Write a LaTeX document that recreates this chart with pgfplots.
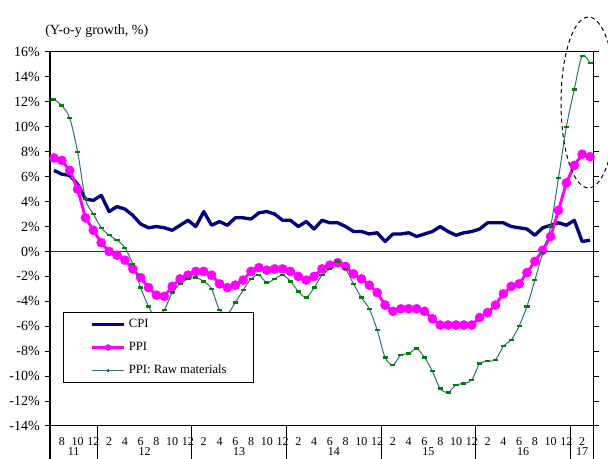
\documentclass[border=0pt]{standalone}
\usepackage{fontspec}
\setmainfont{Liberation Serif}
\usepackage{pgfplots}
\pgfplotsset{compat=1.18}
\usepackage{pgfplotstable}

\definecolor{cpiblue}{RGB}{0,0,128}
\definecolor{ppimag}{RGB}{255,0,255}
\definecolor{rawline}{RGB}{47,112,112}
\definecolor{rawmark}{RGB}{0,128,0}

% Monthly y-o-y growth (%), Jul 2011 (idx 0) to Mar 2017 (idx 68)
\pgfplotstableread{
idx cpi ppi raw
0  6.5  7.5  12.2
1  6.2  7.3  11.7
2  6.1  6.5  10.7
3  5.4  5.0   8.0
4  4.2  2.7   4.2
5  4.1  1.7   3.0
6  4.5  0.7   1.9
7  3.2  0.0   1.3
8  3.6 -0.3   0.9
9  3.4 -0.7   0.3
10 2.9 -1.4  -1.0
11 2.2 -2.1  -2.9
12 1.9 -2.9  -4.4
13 2.0 -3.5  -5.4
14 1.9 -3.6  -4.7
15 1.7 -2.8  -3.3
16 2.1 -2.2  -2.6
17 2.5 -1.9  -2.2
18 2.0 -1.6  -2.1
19 3.2 -1.6  -2.4
20 2.1 -1.9  -3.0
21 2.4 -2.6  -4.7
22 2.1 -2.9  -5.0
23 2.7 -2.7  -4.1
24 2.7 -2.3  -3.1
25 2.6 -1.6  -2.2
26 3.1 -1.3  -1.9
27 3.2 -1.5  -2.5
28 3.0 -1.4  -2.2
29 2.5 -1.4  -1.9
30 2.5 -1.6  -2.4
31 2.0 -2.0  -3.2
32 2.4 -2.3  -3.7
33 1.8 -2.0  -2.9
34 2.5 -1.4  -1.9
35 2.3 -1.1  -1.4
36 2.3 -0.9  -0.8
37 2.0 -1.2  -1.4
38 1.6 -1.8  -2.6
39 1.6 -2.2  -3.7
40 1.4 -2.7  -4.6
41 1.5 -3.3  -6.3
42 0.8 -4.3  -8.5
43 1.4 -4.8  -9.1
44 1.4 -4.6  -8.3
45 1.5 -4.6  -8.2
46 1.2 -4.6  -7.8
47 1.4 -4.8  -8.5
48 1.6 -5.4  -9.6
49 2.0 -5.9 -11.0
50 1.6 -5.9 -11.3
51 1.3 -5.9 -10.7
52 1.5 -5.9 -10.6
53 1.6 -5.9 -10.3
54 1.8 -5.3  -9.0
55 2.3 -4.9  -8.8
56 2.3 -4.3  -8.7
57 2.3 -3.4  -7.6
58 2.0 -2.8  -7.1
59 1.9 -2.6  -6.0
60 1.8 -1.7  -4.4
61 1.3 -0.8  -2.3
62 1.9  0.1  -0.1
63 2.1  1.2   2.0
64 2.3  3.3   5.9
65 2.1  5.5  10.0
66 2.5  6.9  13.0
67 0.8  7.8  15.7
68 0.9  7.6  15.1
}\prices

\begin{document}
\begin{tikzpicture}
\useasboundingbox (-37.5pt,-24.75pt) rectangle (418.5pt,319.5pt);
\clip (-37.5pt,-24.75pt) rectangle (418.5pt,319.5pt);
\begin{axis}[
  at={(0pt,0pt)}, anchor=south west,
  width=408pt, height=280.5pt, scale only axis,
  xmin=-0.5, xmax=68.5, ymin=-14, ymax=16,
  clip=false,
  axis line style={line width=0.75pt, black},
  tick align=outside,
  major tick length=3.75pt,
  xtick={1,3,...,67},
  xticklabels={8,10,12, 2,4,6,8,10,12, 2,4,6,8,10,12, 2,4,6,8,10,12,
               2,4,6,8,10,12, 2,4,6,8,10,12, 2},
  xtick style={draw=none},
  xticklabel style={font=\fontsize{9}{10}\selectfont, anchor=center, inner sep=0pt, yshift=-8.25pt},
  ytick={-14,-12,...,16},
  yticklabels={-14\%,-12\%,-10\%,-8\%,-6\%,-4\%,-2\%,0\%,2\%,4\%,6\%,8\%,10\%,12\%,14\%,16\%},
  ytick style={line width=0.75pt, black},
  yticklabel style={font=\fontsize{10.5}{12}\selectfont, anchor=east, inner sep=0pt, xshift=-3.75pt},
  legend cell align=left,
  legend image code/.code={\draw[mark repeat=2,mark phase=2,#1] plot coordinates {(0pt,0pt) (12pt,0pt) (24pt,0pt)};},
  legend style={at={(0.0239,0.3048)}, anchor=north west, draw=black, line width=0.75pt, fill=white,
    inner xsep=20.25pt, inner ysep=4.75pt, row sep=8.75pt, column sep=2.25pt,
    font=\fontsize{9.5}{11}\selectfont,
    nodes={inner sep=0pt, text height=6.5pt, text depth=2pt}},
]
% zero line
\draw[line width=0.75pt, black!80] (axis cs:-0.5,0) -- (axis cs:68.5,0);

\addplot[color=cpiblue, line width=2.5pt, line join=round, no markers]
  table[x=idx, y=cpi]{\prices};
\addlegendentry{CPI}

\addplot[color=ppimag, line width=2.2pt, line join=round, mark=*, mark size=3.4pt,
  mark options={solid, fill=ppimag, draw=ppimag, line width=0.4pt, line join=miter},
  legend image post style={mark size=2.2pt}]
  table[x=idx, y=ppi]{\prices};
\addlegendentry{PPI}

\addplot[color=rawline, line width=0.75pt, smooth, mark=-, mark size=1.9pt,
  mark options={solid, draw=rawmark, line width=1.8pt},
  legend image post style={mark=*, mark size=0.8pt, mark options={fill=rawmark, draw=rawmark, line width=0pt}}]
  table[x=idx, y=raw]{\prices};
\addlegendentry{PPI: Raw materials}

% thick value axis, extended through the category label rows
\draw[line width=1.5pt, black] (axis cs:-0.5,16) -- (axis cs:-0.5,-14) -- ++(0pt,-24.75pt);
\draw[line width=0.75pt, black] (axis cs:68.5,-14) -- ++(0pt,-24.75pt);
% year separators
\pgfplotsinvokeforeach{5.5,17.5,29.5,41.5,53.5,65.5}{
  \draw[line width=0.75pt, black] (axis cs:#1,-14) -- ++(0pt,-24.75pt);
}
% year labels
\node[font=\fontsize{9}{10}\selectfont, inner sep=0pt] at ([yshift=-19.5pt]axis cs:2.5,-14) {11};
\node[font=\fontsize{9}{10}\selectfont, inner sep=0pt] at ([yshift=-19.5pt]axis cs:11.5,-14) {12};
\node[font=\fontsize{9}{10}\selectfont, inner sep=0pt] at ([yshift=-19.5pt]axis cs:23.5,-14) {13};
\node[font=\fontsize{9}{10}\selectfont, inner sep=0pt] at ([yshift=-19.5pt]axis cs:35.5,-14) {14};
\node[font=\fontsize{9}{10}\selectfont, inner sep=0pt] at ([yshift=-19.5pt]axis cs:47.5,-14) {15};
\node[font=\fontsize{9}{10}\selectfont, inner sep=0pt] at ([yshift=-19.5pt]axis cs:59.5,-14) {16};
\node[font=\fontsize{9}{10}\selectfont, inner sep=0pt] at ([yshift=-19.5pt]axis cs:67,-14) {17};

% dashed highlight around the latest months
\draw[black, line width=0.75pt, dash pattern=on 3pt off 2.5pt]
  (axis cs:67.8,11.95) ellipse [x radius=20.6pt, y radius=64.1pt];
\end{axis}
\node[anchor=west, inner sep=0pt, font=\fontsize{10.5}{12}\selectfont] at (-3.75pt,296.25pt) {(Y-o-y growth, \%)};
\end{tikzpicture}
\end{document}
